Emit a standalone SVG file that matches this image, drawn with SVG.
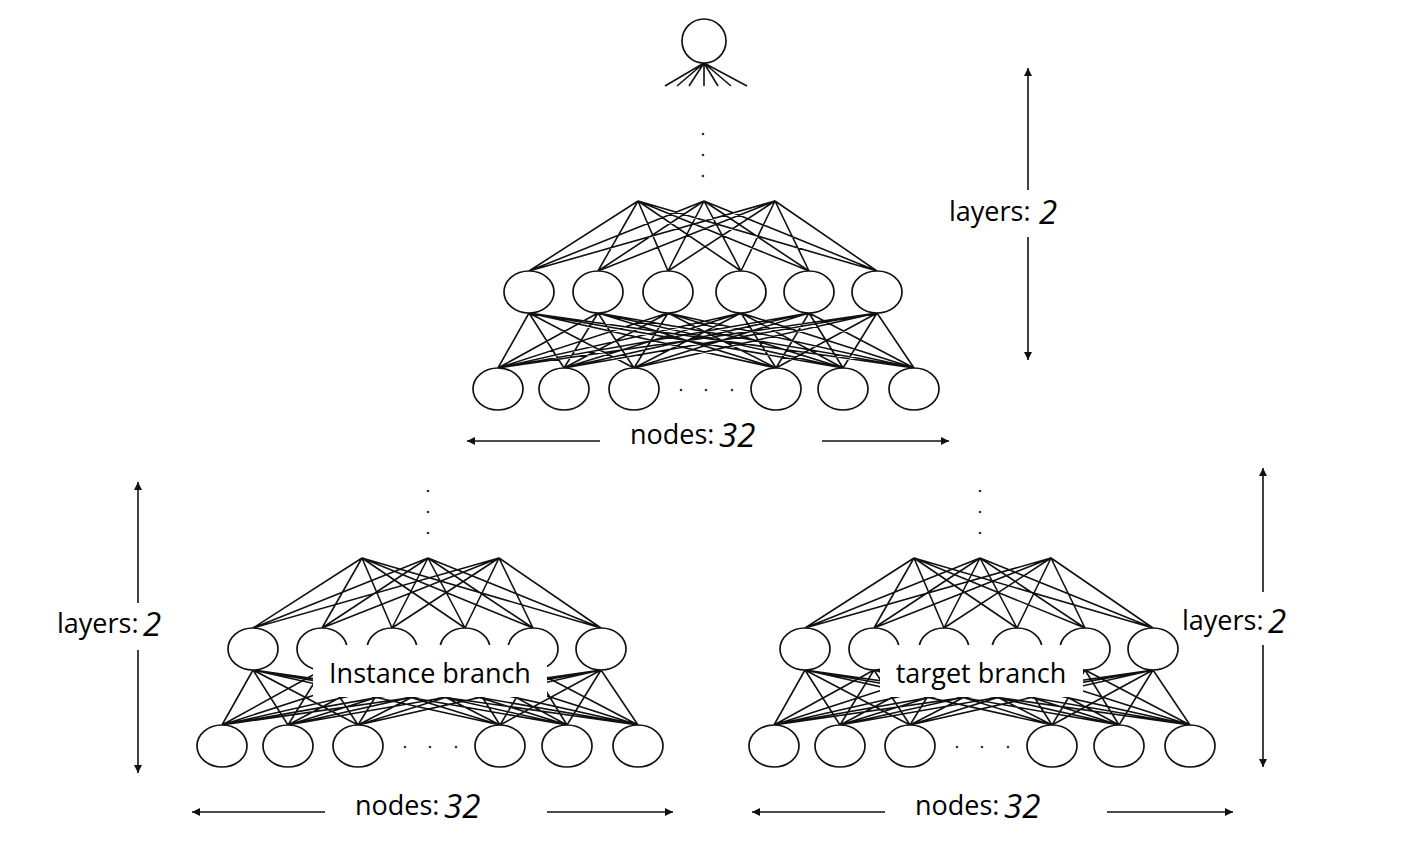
<svg xmlns="http://www.w3.org/2000/svg" xmlns:xlink="http://www.w3.org/1999/xlink" width="1403" height="867" viewBox="0 0 1403 867">
<style>
.ln{stroke:#111;stroke-width:1.6;fill:none}
.nd{stroke:#111;stroke-width:1.7;fill:#fff}
.dt{fill:#333}
.ar{stroke:#111;stroke-width:1.6;fill:none;marker-end:url(#ah)}
.lb{font-family:"Open Sans","Noto Sans","Liberation Sans",sans-serif;font-size:27px;fill:#000}
.num{font-family:"Open Sans","Noto Sans","Liberation Sans",sans-serif;font-size:33px;font-style:italic;fill:#000}
.bx{fill:#fff}
</style>
<defs>
<marker id="ah" viewBox="0 0 10 10" refX="10" refY="5" markerWidth="9" markerHeight="8" markerUnits="userSpaceOnUse" orient="auto"><path d="M0,0L10,5L0,10z" fill="#111"/></marker>
<path id="mesh" d="M362 558L253 628M362 558L322 628M362 558L392 628M362 558L465 628M362 558L533 628M362 558L601 628M428 558L253 628M428 558L322 628M428 558L392 628M428 558L465 628M428 558L533 628M428 558L601 628M499 558L253 628M499 558L322 628M499 558L392 628M499 558L465 628M499 558L533 628M499 558L601 628M253 670L222 725M253 670L288 725M253 670L358 725M253 670L500 725M253 670L567 725M253 670L638 725M322 670L222 725M322 670L288 725M322 670L358 725M322 670L500 725M322 670L567 725M322 670L638 725M392 670L222 725M392 670L288 725M392 670L358 725M392 670L500 725M392 670L567 725M392 670L638 725M465 670L222 725M465 670L288 725M465 670L358 725M465 670L500 725M465 670L567 725M465 670L638 725M533 670L222 725M533 670L288 725M533 670L358 725M533 670L500 725M533 670L567 725M533 670L638 725M601 670L222 725M601 670L288 725M601 670L358 725M601 670L500 725M601 670L567 725M601 670L638 725"/>
</defs>
<rect width="1403" height="867" fill="#fff"/>
<g id="connectors">
<path class="ln" d="M704 63L665 86M704 63L677 86M704 63L689 86M704 63L704 86M704 63L718 86M704 63L731 86M704 63L747 86"/>
<use href="#mesh" class="ln" transform="translate(276,-357)"/>
<use href="#mesh" class="ln"/>
<use href="#mesh" class="ln" transform="translate(552,0)"/>
</g>
<g id="output-node">
<circle class="nd" cx="704" cy="41" r="22"/>
<circle class="dt" cx="703" cy="134" r="1.3"/><circle class="dt" cx="703" cy="155" r="1.3"/><circle class="dt" cx="703" cy="176" r="1.3"/>
</g>
<g id="shared-network" transform="translate(276,-357)">
<g id="shared-hidden">
<ellipse class="nd" cx="253" cy="649" rx="25" ry="21"/><ellipse class="nd" cx="322" cy="649" rx="25" ry="21"/><ellipse class="nd" cx="392" cy="649" rx="25" ry="21"/><ellipse class="nd" cx="465" cy="649" rx="25" ry="21"/><ellipse class="nd" cx="533" cy="649" rx="25" ry="21"/><ellipse class="nd" cx="601" cy="649" rx="25" ry="21"/>
</g>
<g id="shared-input">
<ellipse class="nd" cx="222" cy="746" rx="25" ry="21"/><ellipse class="nd" cx="288" cy="746" rx="25" ry="21"/><ellipse class="nd" cx="358" cy="746" rx="25" ry="21"/><ellipse class="nd" cx="500" cy="746" rx="25" ry="21"/><ellipse class="nd" cx="567" cy="746" rx="25" ry="21"/><ellipse class="nd" cx="638" cy="746" rx="25" ry="21"/>
<circle class="dt" cx="405" cy="747" r="1.3"/><circle class="dt" cx="430" cy="747" r="1.3"/><circle class="dt" cx="456" cy="747" r="1.3"/>
</g>
</g>
<g id="instance-branch">
<circle class="dt" cx="428" cy="491" r="1.3"/><circle class="dt" cx="428" cy="512" r="1.3"/><circle class="dt" cx="428" cy="533" r="1.3"/>
<ellipse class="nd" cx="253" cy="649" rx="25" ry="21"/><ellipse class="nd" cx="322" cy="649" rx="25" ry="21"/><ellipse class="nd" cx="392" cy="649" rx="25" ry="21"/><ellipse class="nd" cx="465" cy="649" rx="25" ry="21"/><ellipse class="nd" cx="533" cy="649" rx="25" ry="21"/><ellipse class="nd" cx="601" cy="649" rx="25" ry="21"/>
<ellipse class="nd" cx="222" cy="746" rx="25" ry="21"/><ellipse class="nd" cx="288" cy="746" rx="25" ry="21"/><ellipse class="nd" cx="358" cy="746" rx="25" ry="21"/><ellipse class="nd" cx="500" cy="746" rx="25" ry="21"/><ellipse class="nd" cx="567" cy="746" rx="25" ry="21"/><ellipse class="nd" cx="638" cy="746" rx="25" ry="21"/>
<circle class="dt" cx="405" cy="747" r="1.3"/><circle class="dt" cx="430" cy="747" r="1.3"/><circle class="dt" cx="456" cy="747" r="1.3"/>
<rect class="bx" x="313" y="645" width="234" height="52"/>
<text class="lb" x="430" y="683" text-anchor="middle">Instance branch</text>
</g>
<g id="target-branch" transform="translate(552,0)">
<circle class="dt" cx="428" cy="491" r="1.3"/><circle class="dt" cx="428" cy="512" r="1.3"/><circle class="dt" cx="428" cy="533" r="1.3"/>
<ellipse class="nd" cx="253" cy="649" rx="25" ry="21"/><ellipse class="nd" cx="322" cy="649" rx="25" ry="21"/><ellipse class="nd" cx="392" cy="649" rx="25" ry="21"/><ellipse class="nd" cx="465" cy="649" rx="25" ry="21"/><ellipse class="nd" cx="533" cy="649" rx="25" ry="21"/><ellipse class="nd" cx="601" cy="649" rx="25" ry="21"/>
<ellipse class="nd" cx="222" cy="746" rx="25" ry="21"/><ellipse class="nd" cx="288" cy="746" rx="25" ry="21"/><ellipse class="nd" cx="358" cy="746" rx="25" ry="21"/><ellipse class="nd" cx="500" cy="746" rx="25" ry="21"/><ellipse class="nd" cx="567" cy="746" rx="25" ry="21"/><ellipse class="nd" cx="638" cy="746" rx="25" ry="21"/>
<circle class="dt" cx="405" cy="747" r="1.3"/><circle class="dt" cx="430" cy="747" r="1.3"/><circle class="dt" cx="456" cy="747" r="1.3"/>
<rect class="bx" x="328" y="645" width="203" height="52"/>
<text class="lb" x="429" y="683" text-anchor="middle">target branch</text>
</g>
<g id="dimensions">
<line class="ar" x1="1028" y1="190" x2="1028" y2="68"/>
<line class="ar" x1="1028" y1="237" x2="1028" y2="360"/>
<text class="lb" x="949" y="221">layers:</text><text class="num" x="1039" y="224">2</text>
<line class="ar" x1="600" y1="441" x2="467" y2="441"/>
<line class="ar" x1="822" y1="441" x2="949" y2="441"/>
<text class="lb" x="630" y="444">nodes:</text><text class="num" x="719" y="447">32</text>
<line class="ar" x1="138" y1="603" x2="138" y2="482"/>
<line class="ar" x1="138" y1="650" x2="138" y2="773"/>
<text class="lb" x="57" y="633">layers:</text><text class="num" x="143" y="636">2</text>
<line class="ar" x1="1263" y1="592" x2="1263" y2="468"/>
<line class="ar" x1="1263" y1="645" x2="1263" y2="767"/>
<text class="lb" x="1182" y="630">layers:</text><text class="num" x="1268" y="633">2</text>
<line class="ar" x1="325" y1="812" x2="192" y2="812"/>
<line class="ar" x1="547" y1="812" x2="673" y2="812"/>
<text class="lb" x="355" y="815">nodes:</text><text class="num" x="444" y="818">32</text>
<line class="ar" x1="885" y1="812" x2="752" y2="812"/>
<line class="ar" x1="1107" y1="812" x2="1233" y2="812"/>
<text class="lb" x="915" y="815">nodes:</text><text class="num" x="1004" y="818">32</text>
</g>
</svg>
